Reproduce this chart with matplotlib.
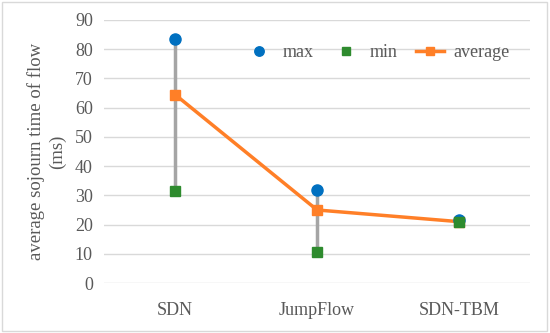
import numpy as np
import matplotlib
matplotlib.use('Agg')
import matplotlib.pyplot as plt

categories = ['SDN', 'JumpFlow', 'SDN-TBM']
max_vals = [83.5, 32, 21.5]
min_vals = [31.5, 10.5, 21]
avg_vals = [64.5, 25, 21]

plt.rcParams['font.family'] = ['Liberation Serif', 'DejaVu Serif']
grey = '#595959'

fig = plt.figure(figsize=(5.5, 3.33), dpi=100)
ax = fig.add_axes([0.189, 0.15, 0.775, 0.79])
# thin border round the figure
fig.patches.append(plt.Rectangle((0.004, 0.006), 0.99, 0.988, transform=fig.transFigure,
                                 fill=False, edgecolor='#d9d9d9', lw=1))

x = np.arange(len(categories))
ax.vlines(x, min_vals, max_vals, color='#a5a5a5', lw=2.5, zorder=2)
ax.plot(x, avg_vals, color='#ff7f27', lw=2.5, marker='s', ms=7, label='average', zorder=3)
ax.plot(x, max_vals, 'o', color='#0070c0', ms=8, label='max', zorder=4)
ax.plot(x, min_vals, 's', color='#2e8b2e', ms=7, label='min', zorder=5)

ax.set_xlim(-0.5, 2.5)
ax.set_ylim(0, 90)
ax.set_yticks(range(0, 91, 10))
ax.set_xticks(x)
ax.set_xticklabels(categories)
ax.grid(axis='y', color='#d9d9d9', lw=1)
ax.set_axisbelow(True)
for s in ax.spines.values():
    s.set_visible(False)
ax.tick_params(length=0, labelsize=13, colors=grey, pad=8)
ax.tick_params(axis='x', pad=14)
ax.set_ylabel('average sojourn time of flow\n(ms)', fontsize=13.5, color=grey, labelpad=6,
              linespacing=1.35)

h, l = ax.get_legend_handles_labels()
order = [1, 2, 0]
ax.legend([h[i] for i in order], [l[i] for i in order], loc='upper right', ncol=3,
          frameon=False, fontsize=13, labelcolor=grey, handlelength=1.6, markerscale=0.85,
          columnspacing=1.0, handletextpad=0.5, bbox_to_anchor=(0.99, 0.97))

fig.savefig('out.png', dpi=100)
